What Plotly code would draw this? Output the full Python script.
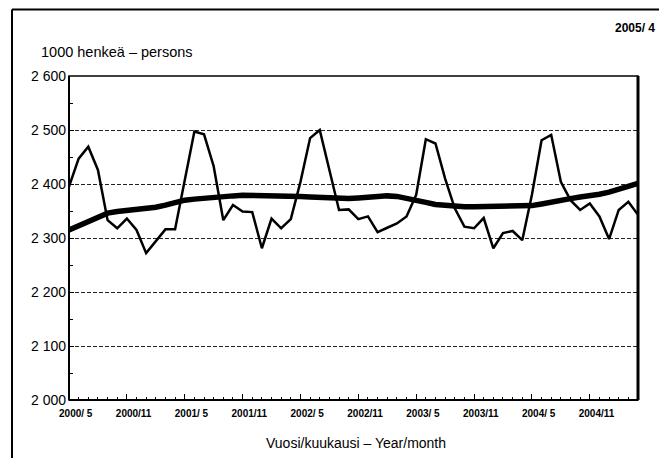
import plotly.graph_objects as go

# ---- data ----
months = [f"{2000 + (4 + i) // 12}/{(4 + i) % 12 + 1}" for i in range(60)]  # 2000/5 .. 2005/4
employed = [2395, 2447, 2469, 2426, 2333, 2318, 2336, 2315, 2272, 2293, 2316, 2316,
            2404, 2497, 2492, 2433, 2333, 2361, 2349, 2348, 2281, 2336, 2318, 2335,
            2404, 2485, 2500, 2426, 2352, 2353, 2335, 2340, 2311, 2319, 2327, 2340,
            2380, 2483, 2475, 2410, 2355, 2321, 2318, 2337, 2281, 2309, 2313, 2296,
            2380, 2481, 2491, 2404, 2370, 2352, 2364, 2340, 2298, 2352, 2367, 2343]
trend = [2315, 2323, 2332, 2340, 2346, 2349, 2351, 2353, 2354, 2357, 2361, 2366,
         2370, 2372, 2374, 2376, 2377, 2378, 2379, 2379, 2379, 2379, 2378, 2378,
         2377, 2376, 2375, 2374, 2373, 2373, 2374, 2376, 2378, 2378, 2377, 2374,
         2370, 2366, 2362, 2360, 2359, 2358, 2358, 2358, 2358, 2358, 2358, 2358,
         2360, 2363, 2367, 2370, 2373, 2376, 2378, 2381, 2385, 2390, 2395, 2401]
x_labels = ["2000/ 5", "2000/11", "2001/ 5", "2001/11", "2002/ 5", "2002/11",
            "2003/ 5", "2003/11", "2004/ 5", "2004/11"]
y_ticks = [2000, 2100, 2200, 2300, 2400, 2500, 2600]
y_labels = ["2 000", "2 100", "2 200", "2 300", "2 400", "2 500", "2 600"]

FONT = "Liberation Sans Narrow, Arial Narrow, Liberation Sans, Arial, sans-serif"
OFF = 8  # page body margin
RIGHT_EDGE = 659  # visible right edge of the page
W, H = RIGHT_EDGE - OFF, 450
# plot area in page pixels: x 69..638, y 76..400
L, R, T = 69 - OFF, RIGHT_EDGE - 638, 76 - OFF
B = (OFF + H) - 400
pw, ph = W - L - R, H - T - B

def px(xp):
    return (xp - OFF - L) / pw

def py(yp):
    return (H - B - (yp - OFF)) / ph

idx = list(range(len(months)))

fig = go.Figure()
fig.add_trace(go.Scatter(x=idx, y=employed, mode="lines", name="Työlliset",
                         line=dict(color="black", width=2.5), hovertext=months))
fig.add_trace(go.Scatter(x=idx, y=trend, mode="lines", name="Trendi",
                         line=dict(color="black", width=5.5), hovertext=months))
fig.add_trace(go.Scatter(x=[0, 59], y=[None, None], xaxis="x2", showlegend=False,
                         hoverinfo="skip"))

fig.update_layout(
    width=W, height=H,
    margin=dict(l=L, r=R, t=T, b=B),
    paper_bgcolor="white", plot_bgcolor="white",
    showlegend=False,
    font=dict(family=FONT, color="black", size=12),
    xaxis=dict(
        range=[0, 59], tickmode="array",
        tickvals=[i * 6 + 0.7 for i in range(len(x_labels))], ticktext=x_labels,
        ticks="", showgrid=False, zeroline=False,
        tickfont=dict(size=10, family=FONT, weight="bold"),
        ticklabelstandoff=6,
        minor=dict(tickmode="linear", tick0=0, dtick=1, ticks="inside", ticklen=3,
                   tickcolor="black", tickwidth=1, showgrid=False),
        showline=False,
    ),
    xaxis2=dict(
        range=[0, 59], overlaying="x", anchor="y", side="bottom",
        tickmode="array", tickvals=[i * 6 for i in range(10)],
        ticks="inside", ticklen=6, tickcolor="black", tickwidth=1,
        showticklabels=False, showgrid=False, zeroline=False, showline=False,
    ),
    yaxis=dict(
        range=[2000, 2600], tickmode="array", tickvals=y_ticks, ticktext=y_labels,
        ticks="inside", ticklen=5, tickcolor="black", tickwidth=1,
        showgrid=True, gridcolor="#222", griddash="4px,2px", gridwidth=1,
        zeroline=False, showline=False,
        tickfont=dict(size=14, family=FONT),
        ticklabelstandoff=2,
        minor=dict(tickmode="linear", tick0=2000, dtick=50, ticks="inside", ticklen=4,
                   tickcolor="black", tickwidth=1, showgrid=False),
    ),
    shapes=[
        dict(type="rect", xref="paper", yref="paper", x0=0, x1=1, y0=0, y1=1,
             line=dict(color="black", width=1.5)),
        dict(type="line", xref="paper", yref="paper", x0=0, x1=0, y0=0, y1=1,
             line=dict(color="black", width=2)),
        dict(type="line", xref="paper", yref="paper", x0=0, x1=1, y0=0, y1=0,
             line=dict(color="black", width=2)),
        dict(type="line", xref="paper", yref="paper", x0=1, x1=1, y0=0, y1=1,
             line=dict(color="black", width=3)),
        # outer frame: only left and top edges are visible in the page
        dict(type="line", xref="paper", yref="paper",
             x0=px(12), x1=px(12), y0=py(500), y1=py(9.5),
             line=dict(color="black", width=2)),
        dict(type="line", xref="paper", yref="paper",
             x0=px(12), x1=px(700), y0=py(9.5), y1=py(9.5),
             line=dict(color="black", width=2)),
    ],
    annotations=[
        dict(text="<b>2005/ 4</b>", xref="paper", yref="paper", x=px(657), y=py(28),
             xanchor="right", yanchor="middle", showarrow=False,
             font=dict(size=12, family=FONT)),
        dict(text="1000 henkeä – persons", xref="paper", yref="paper",
             x=px(39), y=py(52), xanchor="left", yanchor="middle", showarrow=False,
             font=dict(size=14.5, family=FONT)),
        dict(text="Vuosi/kuukausi – Year/month", xref="paper", yref="paper",
             x=px(356), y=py(443), xanchor="center", yanchor="middle", showarrow=False,
             font=dict(size=14, family=FONT)),
    ],
)

fig.write_html("out.html")
